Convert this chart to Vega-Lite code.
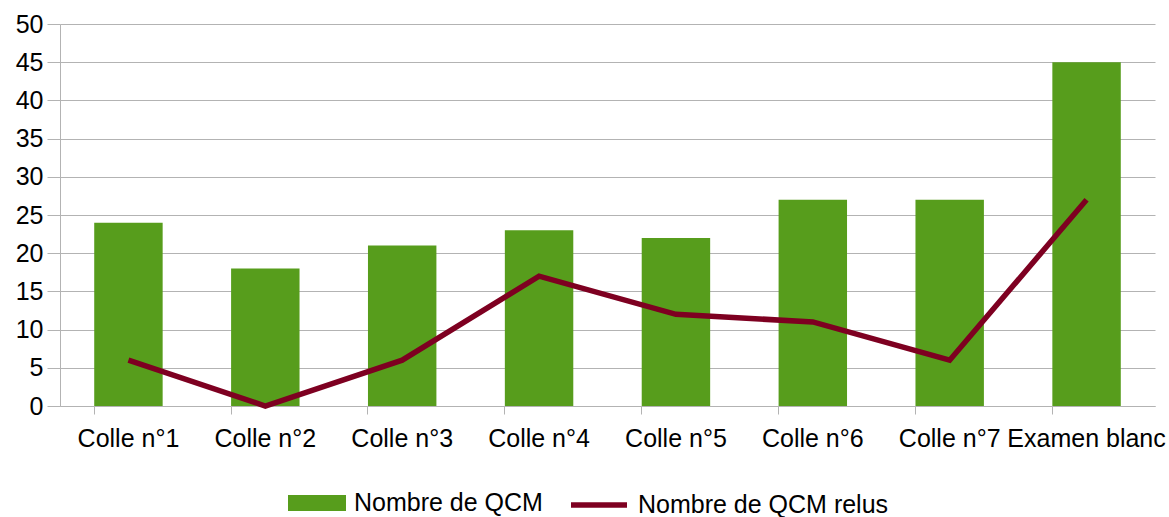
{
  "$schema": "https://vega.github.io/schema/vega-lite/v6.json",
  "autosize": "none",
  "width": 1095,
  "height": 382,
  "padding": {"left": 60, "top": 24, "right": 14, "bottom": 111},
  "background": "white",
  "config": {
    "font": "Liberation Sans",
    "view": {"stroke": null},
    "axis": {"labelFont": "Liberation Sans", "labelFontSize": 25, "labelColor": "#000000", "gridColor": "#b3b3b3", "domainColor": "#b3b3b3", "tickColor": "#b3b3b3", "title": null, "labelOverlap": false}
  },
  "data": {
    "values": [
      {"cat": "Colle n°1", "qcm": 24, "relus": 6},
      {"cat": "Colle n°2", "qcm": 18, "relus": 0},
      {"cat": "Colle n°3", "qcm": 21, "relus": 6},
      {"cat": "Colle n°4", "qcm": 23, "relus": 17},
      {"cat": "Colle n°5", "qcm": 22, "relus": 12},
      {"cat": "Colle n°6", "qcm": 27, "relus": 11},
      {"cat": "Colle n°7", "qcm": 27, "relus": 6},
      {"cat": "Examen blanc", "qcm": 45, "relus": 27}
    ]
  },
  "encoding": {
    "x": {
      "field": "cat", "type": "nominal", "sort": null,
      "scale": {"paddingInner": 0.5, "paddingOuter": 0.25},
      "axis": {"labelAngle": 0, "tickSize": 8, "labelPadding": 12, "bandPosition": 0, "grid": false, "domainColor": "#b3b3b3"}
    }
  },
  "layer": [
    {
      "mark": {"type": "bar"},
      "transform": [{"calculate": "'Nombre de QCM'", "as": "s1"}],
      "encoding": {
        "y": {"field": "qcm", "type": "quantitative", "scale": {"domain": [0, 50], "nice": false}, "axis": {"values": [0,5,10,15,20,25,30,35,40,45,50], "tickSize": 13, "labelPadding": 4, "grid": true, "labelOverlap": false}},
        "fill": {"field": "s1", "type": "nominal", "scale": {"range": ["#579d1c"]},
          "legend": {"title": null, "orient": "none", "legendX": 228, "legendY": 450, "labelFontSize": 25, "labelLimit": 500, "labelFont": "Liberation Sans", "labelColor": "#000000", "symbolType": "M-1,-0.28L1,-0.28L1,0.28L-1,0.28Z", "symbolSize": 3364, "symbolStrokeWidth": 0, "labelOffset": 8}}
      }
    },
    {
      "mark": {"type": "line", "strokeWidth": 5.5},
      "transform": [{"calculate": "'Nombre de QCM relus'", "as": "s2"}],
      "encoding": {
        "y": {"field": "relus", "type": "quantitative", "scale": {"domain": [0, 50], "nice": false}, "axis": {"values": [0,5,10,15,20,25,30,35,40,45,50], "tickSize": 13, "labelPadding": 4, "grid": true, "labelOverlap": false}},
        "stroke": {"field": "s2", "type": "nominal", "scale": {"range": ["#7e0021"]},
          "legend": {"title": null, "orient": "none", "legendX": 508, "legendY": 450, "labelFontSize": 25, "labelLimit": 500, "labelFont": "Liberation Sans", "labelColor": "#000000", "symbolType": "stroke", "symbolSize": 3136, "symbolStrokeWidth": 5.5, "labelOffset": 8}}
      }
    }
  ],
  "resolve": {"scale": {"fill": "independent", "stroke": "independent"}, "legend": {"fill": "independent", "stroke": "independent"}}
}
